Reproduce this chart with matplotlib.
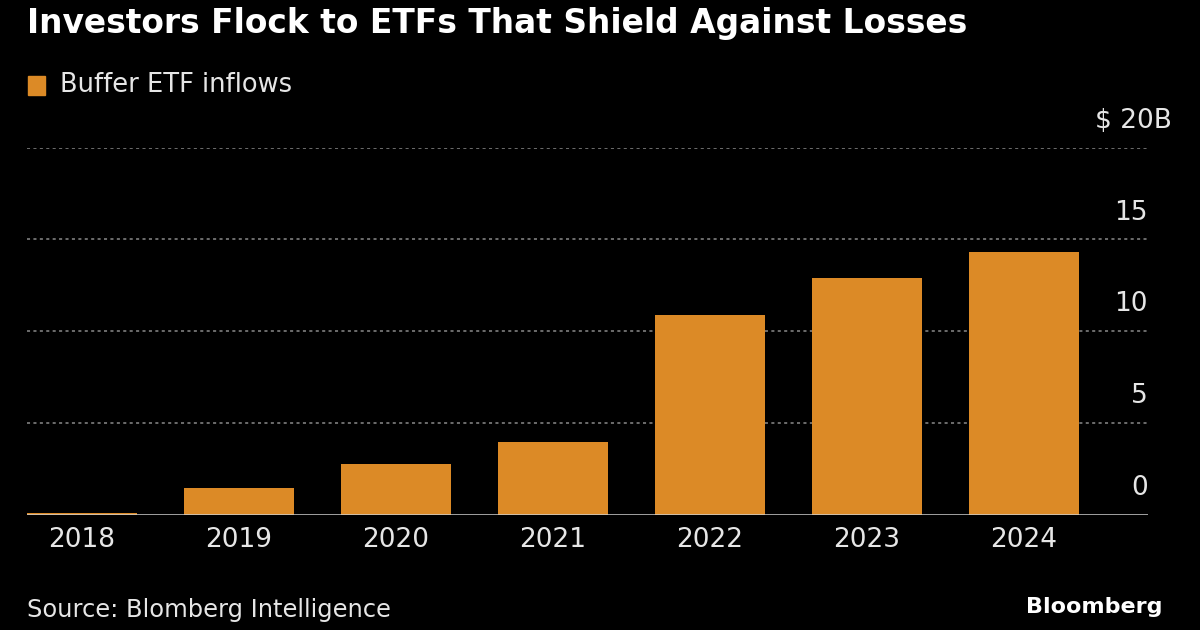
import matplotlib
matplotlib.use("Agg")
import matplotlib.pyplot as plt

# Buffer ETF inflows, $B
years = ["2018", "2019", "2020", "2021", "2022", "2023", "2024"]
inflows = [0.1, 1.43, 2.75, 3.95, 10.9, 12.9, 14.3]
yticks = [0, 5, 10, 15, 20]
ytick_labels = ["0", "5", "10", "15", "$ 20B"]

bar_color = "#dc8a26"
text_color = "#e6e6e6"

plt.rcParams["font.family"] = ["DejaVu Sans"]

fig = plt.figure(figsize=(12, 6.3), dpi=100, facecolor="black")
ax = fig.add_axes([27 / 1200, 115.5 / 630, (1148 - 27) / 1200, (514.5 - 147.7) / 630])
ax.set_facecolor("black")

x = range(len(years))
ax.bar(x, inflows, width=0.70, color=bar_color, zorder=3)
ax.set_xlim(-0.35, 6.79)
ax.set_ylim(0, 20)

# dotted gridlines
for v in yticks[1:]:
    ax.axhline(v, color="#8a8a8a", lw=1.1, ls=(0, (2, 2.2)), zorder=1)
ax.axhline(0, color="#d0d0d0", lw=1.8, zorder=4)

for v, lab in zip(yticks, ytick_labels):
    # the top label's unit "B" hangs past the right edge
    dx = 17 if lab.endswith("B") else 0
    ax.annotate(lab, xy=(1, v), xycoords=("axes fraction", "data"),
                xytext=(dx, 10), textcoords="offset points",
                ha="right", va="bottom", color=text_color, fontsize=19,
                annotation_clip=False)

for s in ax.spines.values():
    s.set_visible(False)
ax.set_yticks([])
ax.set_xticks(list(x))
ax.set_xticklabels(years, fontsize=19, color=text_color)
ax.tick_params(axis="x", length=0, pad=9)

fig.text(27 / 1200, 1 - 24 / 630, "Investors Flock to ETFs That Shield Against Losses",
         color="white", fontsize=23.7, fontweight="bold", va="center", ha="left")
fig.patches.append(plt.Rectangle((28 / 1200, 1 - 95 / 630), 17 / 1200, 19 / 630,
                                 transform=fig.transFigure, color=bar_color))
fig.text(60 / 1200, 1 - 85 / 630, "Buffer ETF inflows", color=text_color,
         fontsize=18.5, va="center", ha="left")
fig.text(27 / 1200, 1 - 610 / 630, "Source: Blomberg Intelligence", color=text_color,
         fontsize=17.4, va="center", ha="left")
fig.text(1162 / 1200, 1 - 607 / 630, "Bloomberg", color="white",
         fontsize=16, fontweight="bold", va="center", ha="right")

fig.savefig("out.png", dpi=100, facecolor="black")
